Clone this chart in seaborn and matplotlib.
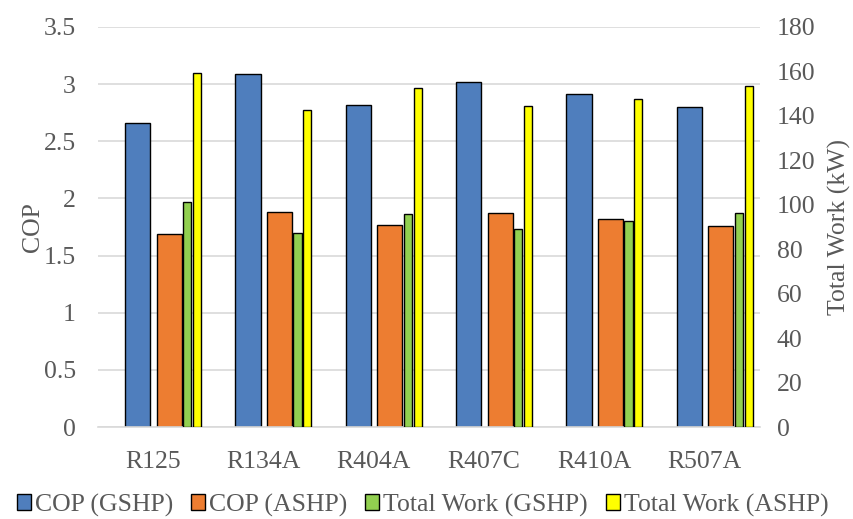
import matplotlib
matplotlib.use("Agg")
import matplotlib.pyplot as plt
import seaborn as sns
import numpy as np
import pandas as pd
from matplotlib.patches import Patch

# Refrigerants compared
refrigerants = ["R125", "R134A", "R404A", "R407C", "R410A", "R507A"]

# Coefficient of performance (left axis)
cop_gshp = [2.66, 3.09, 2.82, 3.02, 2.91, 2.80]
cop_ashp = [1.69, 1.88, 1.77, 1.87, 1.82, 1.76]

# Total compressor work in kW (right axis)
work_gshp = [101.3, 87.4, 95.8, 89.2, 92.7, 96.3]
work_ashp = [159.5, 142.5, 152.5, 144.3, 147.8, 153.6]

cop_ticks = [0, 0.5, 1, 1.5, 2, 2.5, 3, 3.5]
work_ticks = [0, 20, 40, 60, 80, 100, 120, 140, 160, 180]

sns.set_theme(style="white")
plt.rcParams["font.family"] = ["Liberation Serif", "DejaVu Serif"]

grey = "#595959"
fs = 18.5
fig = plt.figure(figsize=(8.54, 5.19), dpi=100)
ax = fig.add_axes([0.1148, 0.177, 0.7752, 0.771])
ax2 = ax.twinx()

idx = np.arange(len(refrigerants))
df = pd.DataFrame({
    "pos": np.tile(idx, 4).astype(float),
    "value": cop_gshp + cop_ashp + work_gshp + work_ashp,
    "series": (["COP (GSHP)"] * 6 + ["COP (ASHP)"] * 6
               + ["Total Work (GSHP)"] * 6 + ["Total Work (ASHP)"] * 6),
})

# (series, axis, centre offset within a category, bar width, colour)
layout = [
    ("COP (GSHP)", ax, -0.141, 0.229, "#4F7EBD"),
    ("COP (ASHP)", ax, 0.145, 0.227, "#ED7D31"),
    ("Total Work (GSHP)", ax2, 0.308, 0.075, "#92D050"),
    ("Total Work (ASHP)", ax2, 0.396, 0.073, "#FFFF00"),
]

handles = []
for name, target, off, w, col in layout:
    sub = df[df["series"] == name].copy()
    sub["pos"] = sub["pos"] + off
    sns.barplot(data=sub, x="pos", y="value", native_scale=True, width=w,
                color=col, saturation=1, edgecolor="black", linewidth=1.0,
                ax=target, errorbar=None)
    handles.append(Patch(facecolor=col, edgecolor="black", linewidth=1.0, label=name))

for a in (ax, ax2):
    a.set_xlim(-0.5, len(refrigerants) - 0.5)
    for s in a.spines.values():
        s.set_visible(False)
    a.tick_params(length=0, colors=grey, labelsize=fs)
    a.set_xlabel("")

ax.set_ylim(0, 3.5)
ax.set_yticks(cop_ticks)
ax.set_yticklabels(["0", "0.5", "1", "1.5", "2", "2.5", "3", "3.5"])
ax2.set_ylim(0, 180)
ax2.set_yticks(work_ticks)
ax.set_xticks(idx)
ax.set_xticklabels(refrigerants)
ax.tick_params(axis="x", pad=17)
ax.tick_params(axis="y", pad=16)
ax2.tick_params(axis="y", pad=12)

ax.yaxis.grid(True, color="#D9D9D9", linewidth=1.2)
ax.set_axisbelow(True)
ax2.grid(False)
ax.spines["bottom"].set_visible(True)
ax.spines["bottom"].set_color("#D9D9D9")
ax.spines["bottom"].set_linewidth(1.2)

ax.set_ylabel("COP", color=grey, fontsize=fs, labelpad=0)
ax2.set_ylabel("Total Work (kW)", color=grey, fontsize=fs, labelpad=9)

fig.legend(handles=handles, loc="center", bbox_to_anchor=(0.495, 0.027), ncol=4,
           frameon=False, fontsize=fs, handlelength=0.55, handleheight=0.55,
           handletextpad=0.15, columnspacing=0.7, labelcolor=grey,
           borderaxespad=0, borderpad=0)

fig.savefig("out.png", dpi=100)
